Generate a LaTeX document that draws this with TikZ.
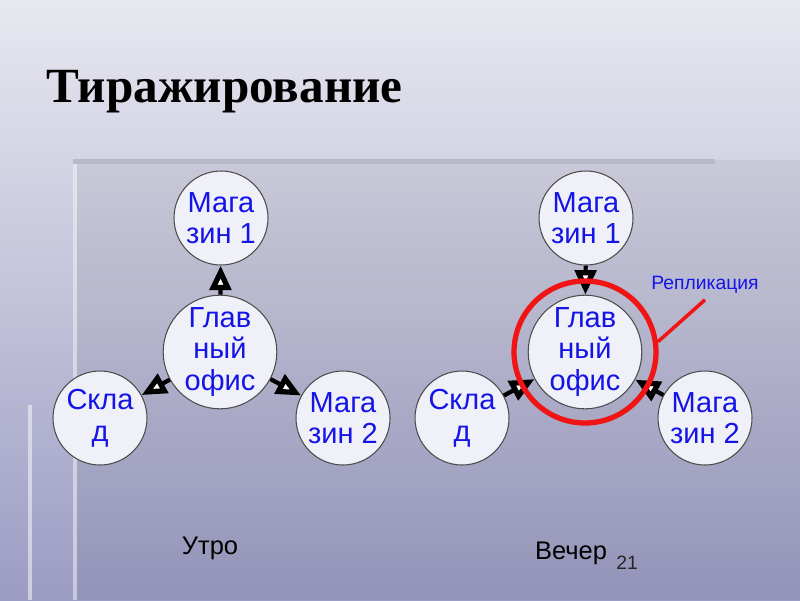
\documentclass[tikz,border=0pt]{standalone}
\usepackage{fontspec}
\setmainfont{Liberation Sans}
\newfontfamily\titlefont{Liberation Serif}
\usepackage{xcolor}
\definecolor{slbg}{RGB}{232,232,240}
\definecolor{slbgdark}{RGB}{156,156,196}
\definecolor{slcircle}{RGB}{240,240,248}
\definecolor{slblue}{RGB}{20,20,230}
\definecolor{slred}{RGB}{240,20,20}
\definecolor{slband}{RGB}{184,184,198}
\usetikzlibrary{arrows.meta,positioning}

\begin{document}
\begin{tikzpicture}[x=0.02cm, y=0.02cm,
    unit/.style={circle, draw=black!70, line width=0.6pt, fill=slcircle,
                 minimum size=1.88cm, inner sep=0pt, align=center,
                 text=slblue, font=\fontsize{16.5}{18}\selectfont},
    arr/.style={-{Triangle[fill=white, length=14pt, width=12pt, line width=3pt]},
                line width=2.4pt, black},
    caption/.style={font=\fontsize{14.5}{17}\selectfont, text=black}
  ]
    % Background and panel
    \useasboundingbox (0,0) rectangle (800,600);
    \shade[top color=slbg, bottom color=slbgdark] (0,0) rectangle (800,600);
    \fill[black, opacity=0.05] (73,0) rectangle (800,440);
    \fill[slband] (73,436) rectangle (715,441);
    \draw[white, opacity=0.5, line width=2pt] (75,436) -- (75,0);
    \draw[white, opacity=0.5, line width=2pt] (30,195) -- (30,0);

    % Title
    \node[anchor=west, font=\titlefont\bfseries\fontsize{28}{32}\selectfont]
      (title) at (40,508) {Тиражирование};

    % Morning: office sends to everybody
    \node[unit] (hqa) at (220,248) {Глав\\ный\\офис};
    \node[unit] (m1a) at (221,382) {Мага\\зин 1};
    \node[unit] (sa)  at (100,182) {Скла\\д};
    \node[unit] (m2a) at (343,182) {Мага\\зин 2};
    \draw[arr] (hqa) -- (m1a);
    \draw[arr] (hqa) -- (sa);
    \draw[arr] (hqa) -- (m2a);
    \node[caption] (morning) at (210,52) {Утро};

    % Evening: everybody sends to office
    \node[unit] (hqb) at (585,248) {Глав\\ный\\офис};
    \node[unit] (m1b) at (586,382) {Мага\\зин 1};
    \node[unit] (sb)  at (462,182) {Скла\\д};
    \node[unit] (m2b) at (705,182) {Мага\\зин 2};
    \draw[arr] (m1b) -- (hqb);
    \draw[arr] (sb) -- (hqb);
    \draw[arr] (m2b) -- (hqb);
    \node[caption] (evening) at (571,47) {Вечер};

    % Replication mark
    \node[circle, draw=slred, line width=3pt, minimum size=2.84cm, inner sep=0pt]
      (rep) at (585,248) {};
    \node[text=slblue, font=\fontsize{11}{13}\selectfont] (replbl) at (705,315) {Репликация};
    \draw[slred, line width=2pt] (rep.8) -- (replbl.south);

    % Slide number
    \node[font=\fontsize{11}{13}\selectfont, text=black!85] (num) at (627,37) {21};
  \end{tikzpicture}
\end{document}
